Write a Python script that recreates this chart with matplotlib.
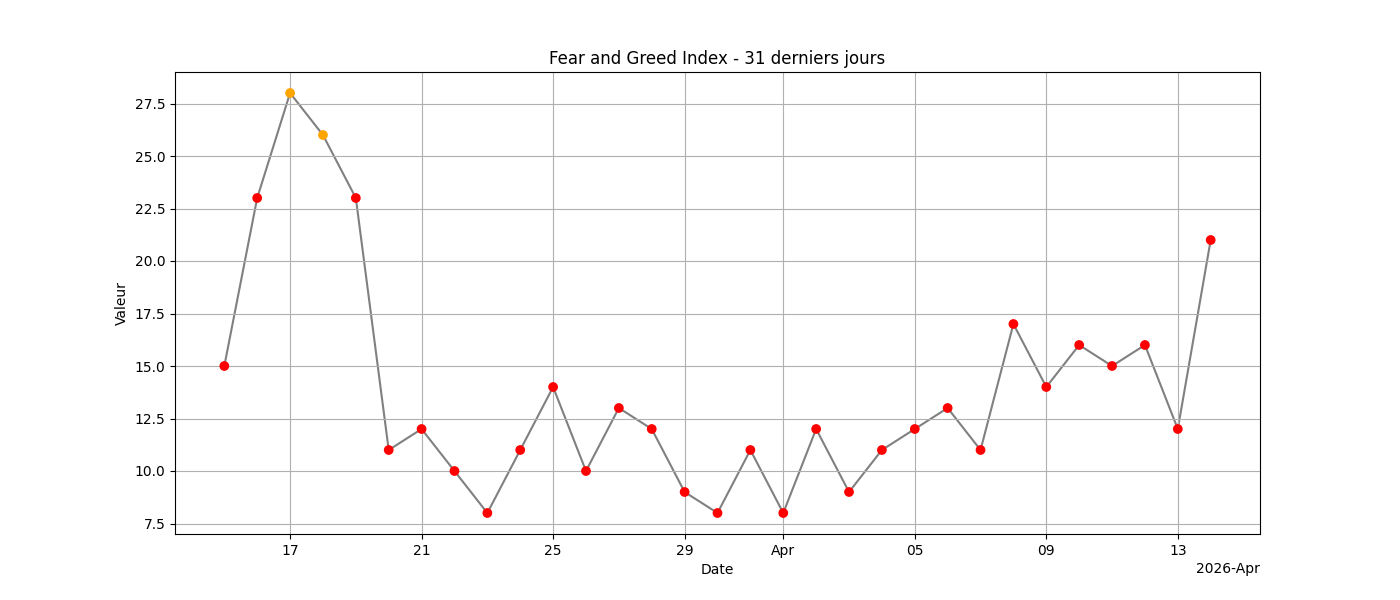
import matplotlib
matplotlib.use("Agg")
import matplotlib.pyplot as plt
import matplotlib.dates as mdates
import pandas as pd

dates = pd.date_range("2026-03-15", periods=31, freq="D")
values = [15, 23, 28, 26, 23, 11, 12, 10, 8, 11, 14, 10, 13, 12, 9, 8, 11,
          8, 12, 9, 11, 12, 13, 11, 17, 14, 16, 15, 16, 12, 21]


def color_for(v):
    # extreme fear in red, fear in orange
    if v < 25:
        return "red"
    if v < 45:
        return "orange"
    return "green"


colors = [color_for(v) for v in values]

fig, ax = plt.subplots(figsize=(14, 6), dpi=100)
ax.plot(dates, values, color="gray", zorder=1)
ax.scatter(dates, values, c=colors, zorder=2)

locator = mdates.AutoDateLocator()
ax.xaxis.set_major_locator(locator)
ax.xaxis.set_major_formatter(mdates.ConciseDateFormatter(locator))

ax.set_title("Fear and Greed Index - 31 derniers jours")
ax.set_xlabel("Date")
ax.set_ylabel("Valeur")
ax.grid(True)

fig.savefig("out.png", dpi=100)
